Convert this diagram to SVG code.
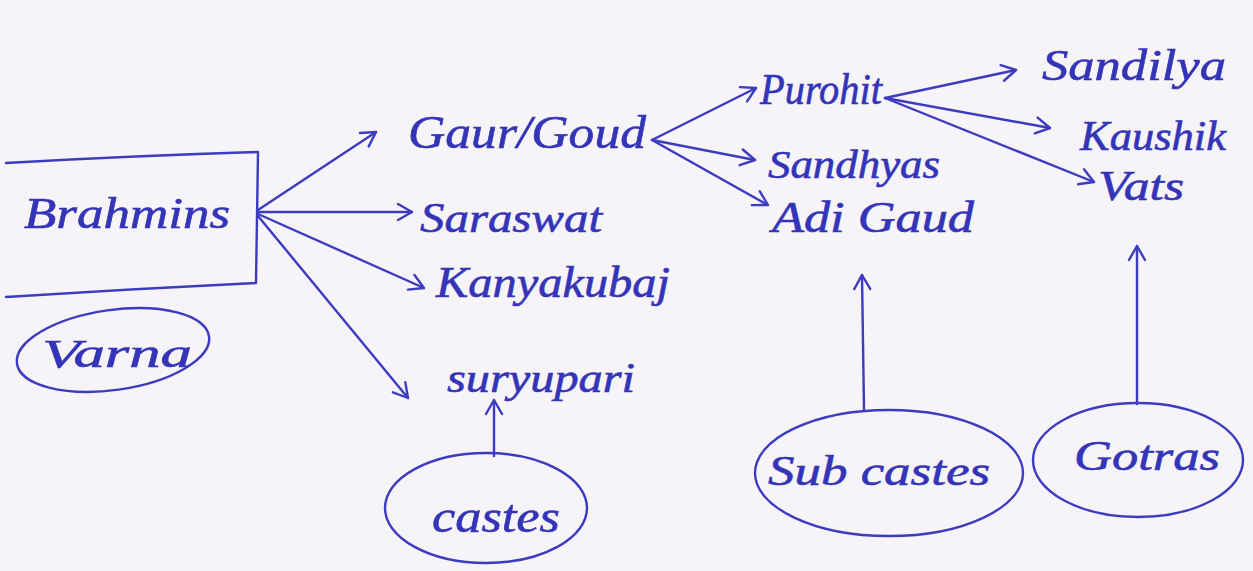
<svg xmlns="http://www.w3.org/2000/svg" width="1253" height="571" viewBox="0 0 1253 571">
  <style>
    .ink { fill: none; stroke: #3c3cc0; stroke-width: 2.4; stroke-linecap: round; stroke-linejoin: round; }
    .lbl { font-family: "Liberation Serif", "DejaVu Serif", serif; font-style: italic; fill: #3434b8; stroke: #3434b8; stroke-width: 0.6; }
  </style>
  <defs>
    <marker id="head" viewBox="0 0 20 20" refX="18" refY="10" markerWidth="20" markerHeight="20" markerUnits="userSpaceOnUse" orient="auto">
      <path d="M4,2 L18,10 L4,18" fill="none" stroke="#3c3cc0" stroke-width="2.4" stroke-linecap="round" stroke-linejoin="round"/>
    </marker>
  </defs>
  <rect width="1253" height="571" fill="#f6f3f9"/>

  <g id="brahmins">
    <path class="ink" d="M6,163 Q130,156 258,152 L256,283 Q130,289 6,297"/>
    <text class="lbl" x="24" y="228" font-size="44" textLength="206" lengthAdjust="spacingAndGlyphs">Brahmins</text>
  </g>
  <g id="varna">
    <ellipse class="ink" cx="113" cy="350" rx="97" ry="40" transform="rotate(-8 113 350)"/>
    <text class="lbl" x="42" y="367" font-size="40" textLength="150" lengthAdjust="spacingAndGlyphs">Varna</text>
  </g>

  <g id="gaur-goud">
    <text class="lbl" x="408" y="148" font-size="46" textLength="238" lengthAdjust="spacingAndGlyphs">Gaur/Goud</text>
  </g>
  <g id="saraswat">
    <text class="lbl" x="420" y="232" font-size="42" textLength="182" lengthAdjust="spacingAndGlyphs">Saraswat</text>
  </g>
  <g id="kanyakubaj">
    <text class="lbl" x="436" y="297" font-size="44" textLength="234" lengthAdjust="spacingAndGlyphs">Kanyakubaj</text>
  </g>
  <g id="suryupari">
    <text class="lbl" x="447" y="392" font-size="42" textLength="188" lengthAdjust="spacingAndGlyphs">suryupari</text>
  </g>
  <g id="castes">
    <ellipse class="ink" cx="486" cy="508" rx="101" ry="55"/>
    <text class="lbl" x="432" y="532" font-size="46" textLength="128" lengthAdjust="spacingAndGlyphs">castes</text>
  </g>

  <g id="purohit">
    <text class="lbl" x="760" y="104" font-size="44" textLength="122" lengthAdjust="spacingAndGlyphs">Purohit</text>
  </g>
  <g id="sandhyas">
    <text class="lbl" x="768" y="178" font-size="40" textLength="172" lengthAdjust="spacingAndGlyphs">Sandhyas</text>
  </g>
  <g id="adi-gaud">
    <text class="lbl" x="772" y="232" font-size="44" textLength="202" lengthAdjust="spacingAndGlyphs">Adi Gaud</text>
  </g>
  <g id="sub-castes">
    <ellipse class="ink" cx="889" cy="473" rx="134" ry="63"/>
    <text class="lbl" x="768" y="485" font-size="42" textLength="222" lengthAdjust="spacingAndGlyphs">Sub castes</text>
  </g>

  <g id="sandilya">
    <text class="lbl" x="1042" y="80" font-size="44" textLength="184" lengthAdjust="spacingAndGlyphs">Sandilya</text>
  </g>
  <g id="kaushik">
    <text class="lbl" x="1080" y="150" font-size="42" textLength="146" lengthAdjust="spacingAndGlyphs">Kaushik</text>
  </g>
  <g id="vats">
    <text class="lbl" x="1098" y="200" font-size="42" textLength="86" lengthAdjust="spacingAndGlyphs">Vats</text>
  </g>
  <g id="gotras">
    <ellipse class="ink" cx="1138" cy="460" rx="105" ry="57"/>
    <text class="lbl" x="1074" y="470" font-size="42" textLength="146" lengthAdjust="spacingAndGlyphs">Gotras</text>
  </g>

  <g id="connectors">
    <path class="ink" marker-end="url(#head)" d="M258,210 L376,132"/>
    <path class="ink" marker-end="url(#head)" d="M258,212 L412,212"/>
    <path class="ink" marker-end="url(#head)" d="M258,214 L424,288"/>
    <path class="ink" marker-end="url(#head)" d="M258,216 L408,398"/>
    <path class="ink" marker-end="url(#head)" d="M494,456 L494,400"/>

    <path class="ink" marker-end="url(#head)" d="M652,140 L756,88"/>
    <path class="ink" marker-end="url(#head)" d="M652,140 L755,160"/>
    <path class="ink" marker-end="url(#head)" d="M652,140 L768,205"/>

    <path class="ink" marker-end="url(#head)" d="M885,98 L1016,70"/>
    <path class="ink" marker-end="url(#head)" d="M885,98 L1050,128"/>
    <path class="ink" marker-end="url(#head)" d="M885,98 L1094,182"/>

    <path class="ink" marker-end="url(#head)" d="M864,410 L862,275"/>
    <path class="ink" marker-end="url(#head)" d="M1137,404 L1137,246"/>
  </g>
</svg>
